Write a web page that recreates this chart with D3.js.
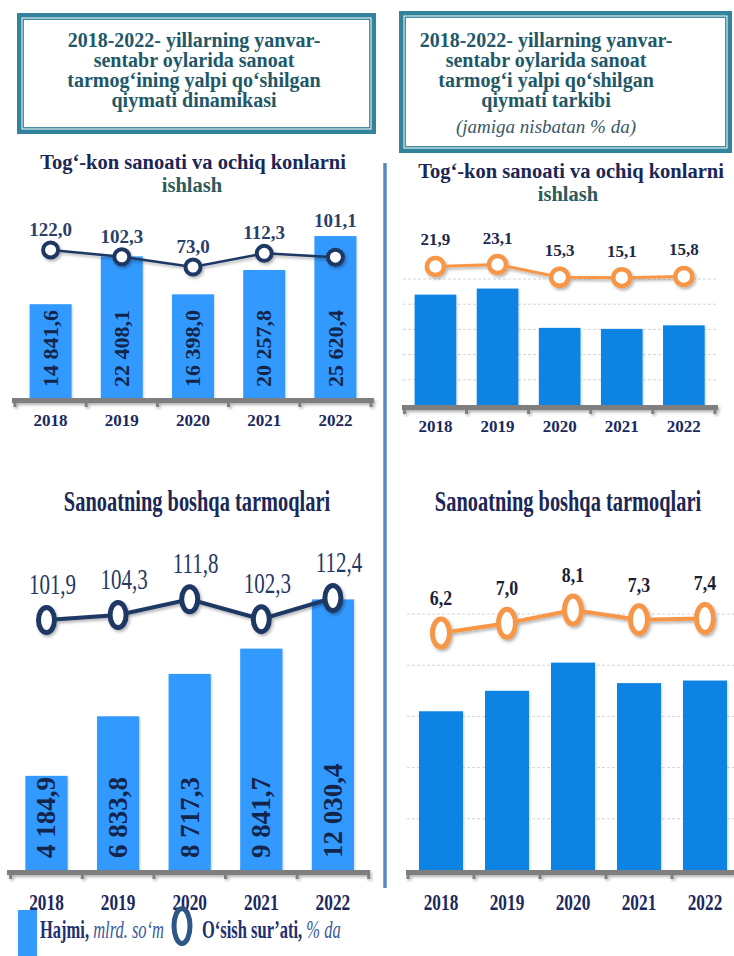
<!DOCTYPE html>
<html><head><meta charset="utf-8">
<script src="https://cdn.jsdelivr.net/npm/d3@7"></script>
<style>body{margin:0;background:#fff}svg{display:block}</style>
</head><body>
<script>
// ---------- DATA ----------
const years = ["2018","2019","2020","2021","2022"];
const miningVolume = [14841.6, 22408.1, 16398.0, 20257.8, 25620.4];
const miningGrowth = [122.0, 102.3, 73.0, 112.3, 101.1];
const miningShare  = [21.9, 23.1, 15.3, 15.1, 15.8];
const otherVolume  = [4184.9, 6833.8, 8717.3, 9841.7, 12030.4];
const otherGrowth  = [101.9, 104.3, 111.8, 102.3, 112.4];
const otherShare   = [6.2, 7.0, 8.1, 7.3, 7.4];
const headerLeft  = ["2018-2022- yillarning yanvar-","sentabr oylarida sanoat","tarmog‘ining yalpi qo‘shilgan","qiymati dinamikasi"];
const headerRight = ["2018-2022- yillarning yanvar-","sentabr oylarida sanoat","tarmog‘i yalpi qo‘shilgan","qiymati tarkibi"];
const headerRightNote = "(jamiga nisbatan % da)";
const titleMining = ["Tog‘-kon sanoati va ochiq konlarni","ishlash"];
const titleOther  = "Sanoatning boshqa tarmoqlari";
const legendVolume = ["Hajmi,", "mlrd. so‘m"];
const legendGrowth = ["O‘sish sur’ati,", "% da"];

// ---------- SETUP ----------
const W = 734, H = 956;
const FONT = "'Liberation Serif','Times New Roman',serif";
const loc = d3.formatLocale({decimal: ",", thousands: " ", grouping: [3], currency: ["", ""]});
const fmtBig = loc.format(",.1f");
const fmt1 = loc.format(".1f");

const svg = d3.select("body").append("svg").attr("width", W).attr("height", H)
  .style("font-family", FONT);
const defs = svg.append("defs");
defs.append("filter").attr("id", "sh").attr("x", "-30%").attr("y", "-30%").attr("width", "160%").attr("height", "160%")
  .append("feDropShadow").attr("dx", 1.5).attr("dy", 2).attr("stdDeviation", 1.4)
  .attr("flood-color", "#000").attr("flood-opacity", 0.3);
defs.append("filter").attr("id", "shb").attr("x", "-10%").attr("y", "-10%").attr("width", "130%").attr("height", "130%")
  .append("feDropShadow").attr("dx", 1).attr("dy", 1).attr("stdDeviation", 1)
  .attr("flood-color", "#000").attr("flood-opacity", 0.18);

function txt(parent, o) {
  const t = parent.append("text")
    .attr("transform", `translate(${o.x},${o.y}) scale(${o.sx || 1},1)`)
    .attr("text-anchor", o.anchor || "middle")
    .attr("font-size", o.size)
    .attr("font-weight", o.weight || "bold")
    .attr("font-style", o.style || "normal")
    .attr("fill", o.fill || "#1b2756")
    .text(o.text);
  return t;
}

// ---------- HEADER BOXES ----------
function headerBox(x0, y0, x1, y1) {
  svg.append("rect").attr("x", x0 + 2.25).attr("y", y0 + 2.25)
    .attr("width", x1 - x0 - 4.5).attr("height", y1 - y0 - 4.5)
    .attr("fill", "#fff").attr("stroke", "#31849b").attr("stroke-width", 4.5);
  svg.append("rect").attr("x", x0 + 6.2).attr("y", y0 + 6.2)
    .attr("width", x1 - x0 - 12.4).attr("height", y1 - y0 - 12.4)
    .attr("fill", "none").attr("stroke", "#31849b").attr("stroke-width", 1.4);
}
headerBox(17, 13, 376, 134);
headerBox(399, 11, 732, 153);
headerLeft.forEach((s, i) => txt(svg, {x: 194, y: 47 + i * 20, text: s, size: 20, fill: "#215868"}));
headerRight.forEach((s, i) => txt(svg, {x: 546, y: 47 + i * 20, text: s, size: 20, fill: "#215868"}));
txt(svg, {x: 546, y: 133, text: headerRightNote, size: 19, weight: "normal", style: "italic", fill: "#3a5868"});

// vertical separator
svg.append("line").attr("x1", 385).attr("x2", 385).attr("y1", 163).attr("y2", 888)
  .attr("stroke", "#5b86c3").attr("stroke-width", 3.5);

// ---------- TITLES ----------
function underline(x0, x1, y) {
  svg.append("line").attr("x1", x0).attr("x2", x1).attr("y1", y).attr("y2", y)
    .attr("stroke", "#4a7ebb").attr("stroke-width", 3).attr("filter", "url(#shb)");
}
txt(svg, {x: 193, y: 169, text: titleMining[0], size: 20.5, fill: "#1b2756"});
txt(svg, {x: 192, y: 192, text: titleMining[1], size: 20.5, fill: "#2d5a5c"});
underline(20, 366, 203);
txt(svg, {x: 571, y: 178, text: titleMining[0], size: 20.5, fill: "#1b2756"});
txt(svg, {x: 568, y: 201, text: titleMining[1], size: 20.5, fill: "#2d5a5c"});
underline(407, 723, 207);
txt(svg, {x: 197, y: 511, text: titleOther, size: 30, sx: 0.68, fill: "#1b2756"});
underline(18, 369, 522);
txt(svg, {x: 568, y: 511, text: titleOther, size: 30, sx: 0.68, fill: "#1b2756"});
underline(407, 728, 522);

// ---------- PANELS ----------
function panel(c) {
  const g = svg.append("g");
  const x = d3.scaleBand().domain(years).range(c.xRange).paddingInner(c.padIn).paddingOuter(c.padIn / 2);
  const y = d3.scaleLinear().domain(c.yDomain).range([c.base, c.yTop]);
  const yl = d3.scaleLinear().domain(c.lDomain).range(c.lRange);
  const cx = d => x(d) + x.bandwidth() / 2;

  if (c.grid) {
    g.selectAll("line.grid").data(c.grid).join("line").attr("class", "grid")
      .attr("x1", c.gridX[0]).attr("x2", c.gridX[1])
      .attr("y1", d => y(d)).attr("y2", d => y(d))
      .attr("stroke", "#d4d4d4").attr("stroke-width", 1).attr("stroke-dasharray", "3,2");
  }

  // bars
  g.selectAll("rect.bar").data(years).join("rect").attr("class", "bar")
    .attr("x", d => x(d)).attr("width", x.bandwidth())
    .attr("y", (d, i) => y(c.bars[i])).attr("height", (d, i) => c.base - y(c.bars[i]))
    .attr("fill", c.barColor).attr("filter", "url(#shb)");

  // rotated labels inside bars
  if (c.inside) {
    years.forEach((d, i) => {
      const fs = c.inside.size;
      const t = g.append("text")
        .attr("font-size", fs).attr("font-weight", "bold").attr("fill", "#13254a")
        .attr("text-anchor", "start").text(fmtBig(c.bars[i]));
      const len = t.node().getComputedTextLength();
      const top = y(c.bars[i]);
      let start = c.base - c.inside.gap;
      if (start - len < top) start = Math.min(c.base - 2, top + len);
      t.attr("transform", `translate(${cx(d) + fs * 0.33},${start}) rotate(-90)`);
    });
  }

  // axis
  const ax = g.append("g").attr("transform", `translate(0,${c.base})`)
    .call(d3.axisBottom(x).tickSize(0));
  ax.select(".domain").remove();
  ax.selectAll("text")
    .attr("dy", null).attr("y", 0)
    .attr("transform", `translate(0,${c.yearDy}) scale(${c.yearSx},1)`)
    .attr("font-family", FONT).attr("font-size", c.yearSize)
    .attr("font-weight", "bold").attr("fill", "#1a2a5e");
  const ag = g.append("g").attr("filter", "url(#sh)");
  ag.append("rect").attr("x", c.axisX[0]).attr("width", c.axisX[1] - c.axisX[0])
    .attr("y", c.base).attr("height", 5).attr("fill", "#7f7f7f");
  const r0 = x.range()[0];
  ag.selectAll("rect.tk").data(d3.range(years.length + 1)).join("rect").attr("class", "tk")
    .attr("x", i => r0 + i * x.step() - 1.5).attr("width", 3)
    .attr("y", c.base).attr("height", 9).attr("fill", "#7f7f7f");

  // line
  const pts = years.map((d, i) => ({d, v: c.line[i], px: cx(d), py: yl(c.line[i]), top: y(c.bars[i])}));
  const lg = g.append("g").attr("filter", "url(#sh)");
  lg.append("path").datum(pts)
    .attr("d", d3.line().x(p => p.px).y(p => p.py))
    .attr("fill", "none").attr("stroke", c.lineColor).attr("stroke-width", c.lineW);
  lg.selectAll("ellipse").data(pts).join("ellipse")
    .attr("cx", p => p.px).attr("cy", p => p.py).attr("rx", c.rx).attr("ry", c.ry)
    .attr("fill", "#fff").attr("stroke", c.lineColor).attr("stroke-width", c.markW);

  // line labels
  pts.forEach(p => {
    let ly = p.py - c.lab.off;
    if (c.lab.avoidBar) ly = Math.min(ly, p.top - c.lab.avoidBar);
    txt(g, {x: p.px + (c.lab.dx || 0), y: ly, text: fmt1(p.v), size: c.lab.size,
      weight: c.lab.weight, sx: c.lab.sx, fill: c.lab.fill});
  });
}

// top-left: volume bars + growth line
panel({
  xRange: [15, 371], padIn: 0.41, base: 398, yDomain: [0, 30000], yTop: 208.4,
  bars: miningVolume, barColor: "#3399ff", inside: {size: 22, gap: 11},
  lDomain: [60, 130], lRange: [271.5, 247.2], line: miningGrowth,
  lineColor: "#1f3864", lineW: 2.5, rx: 7.5, ry: 7.5, markW: 4,
  lab: {off: 14, avoidBar: 9, size: 19, weight: "bold", fill: "#2b3f6b"},
  axisX: [12, 374], yearDy: 28, yearSize: 17, yearSx: 1
});
// top-right: share bars + share line
panel({
  xRange: [404.4, 714.9], padIn: 0.33, base: 405, yDomain: [0, 25], yTop: 279,
  grid: [5, 10, 15, 20, 25], gridX: [403, 716],
  bars: miningShare, barColor: "#0984e3",
  lDomain: [10, 30], lRange: [286, 253.2], line: miningShare,
  lineColor: "#f79646", lineW: 3, rx: 8.5, ry: 8.5, markW: 4.5,
  lab: {off: 21, size: 17, weight: "bold", fill: "#1b2a4a"},
  axisX: [402, 718], yearDy: 27, yearSize: 17, yearSx: 1
});
// bottom-left
panel({
  xRange: [10.7, 368.7], padIn: 0.41, base: 870, yDomain: [0, 13000], yTop: 577.6,
  bars: otherVolume, barColor: "#3399ff", inside: {size: 27, gap: 12},
  lDomain: [100, 115], lRange: [624, 592.5], line: otherGrowth,
  lineColor: "#1f3864", lineW: 4, rx: 8, ry: 12.5, markW: 5,
  lab: {off: 26, dx: 6, size: 30, weight: "normal", sx: 0.7, fill: "#1f3864"},
  axisX: [7, 369], yearDy: 40, yearSize: 24, yearSx: 0.72
});
// bottom-right
panel({
  xRange: [408, 738], padIn: 0.333, base: 870, yDomain: [0, 10], yTop: 614,
  grid: [2, 4, 6, 8, 10], gridX: [407, 734],
  bars: otherShare, barColor: "#0984e3",
  lDomain: [5, 9], lRange: [647.5, 599.1], line: otherShare,
  lineColor: "#f79646", lineW: 4, rx: 8.5, ry: 14, markW: 5,
  lab: {off: 28, size: 21, weight: "bold", sx: 0.85, fill: "#1a1f3a"},
  axisX: [406, 734], yearDy: 40, yearSize: 24, yearSx: 0.72
});

// ---------- LEGEND ----------
const lgd = svg.append("g");
lgd.append("rect").attr("x", 18).attr("y", 910).attr("width", 19).attr("height", 46).attr("fill", "#3399ff");
const t1 = lgd.append("text").attr("transform", "translate(40,938) scale(0.66,1)").attr("font-size", 25);
t1.append("tspan").attr("font-weight", "bold").attr("fill", "#1f3070").text(legendVolume[0]);
t1.append("tspan").attr("font-style", "italic").attr("fill", "#3b5a9a").text(" " + legendVolume[1]);
lgd.append("ellipse").attr("cx", 182).attr("cy", 926).attr("rx", 8).attr("ry", 17.5)
  .attr("fill", "#fff").attr("stroke", "#2e5686").attr("stroke-width", 5);
const t2 = lgd.append("text").attr("transform", "translate(202,938) scale(0.66,1)").attr("font-size", 25);
t2.append("tspan").attr("font-weight", "bold").attr("fill", "#1f3070").text(legendGrowth[0]);
t2.append("tspan").attr("font-style", "italic").attr("fill", "#3b5a9a").text(" " + legendGrowth[1]);
</script>
</body></html>
